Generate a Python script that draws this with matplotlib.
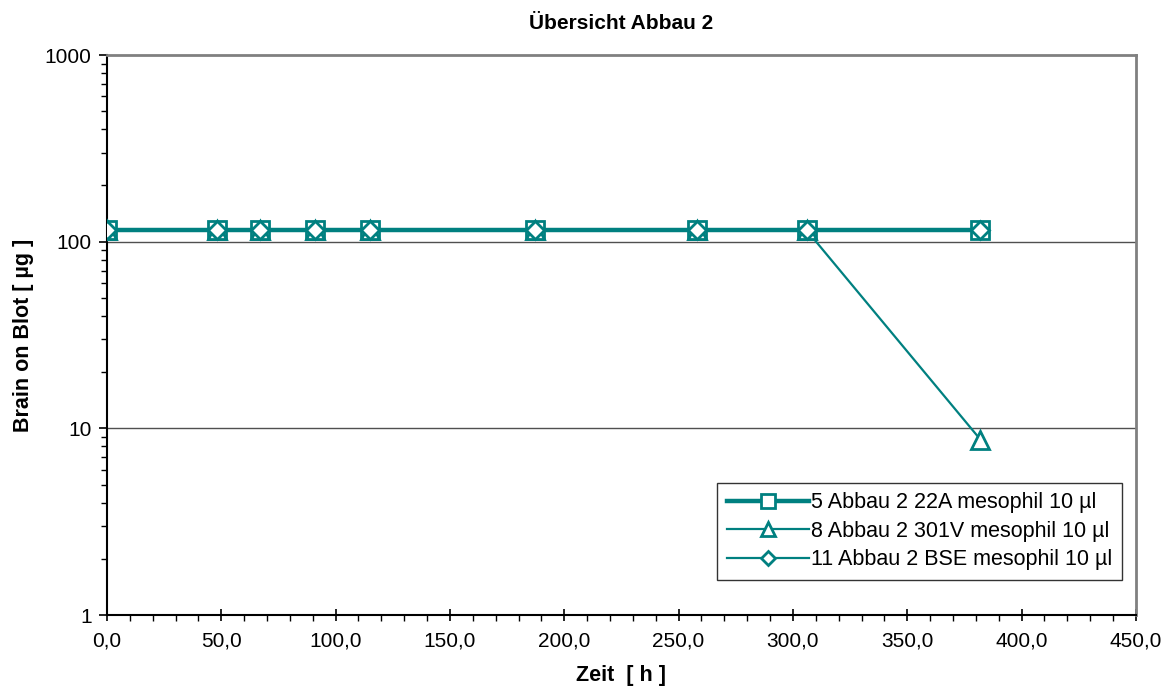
import matplotlib
matplotlib.use("Agg")
import matplotlib.pyplot as plt
from matplotlib.ticker import FixedLocator, FuncFormatter, LogLocator, MultipleLocator, NullFormatter

plt.rcParams['font.family'] = ['Liberation Sans', 'DejaVu Sans']

title = "Übersicht Abbau 2"
x_label = "Zeit  [ h ]"
y_label = "Brain on Blot [ µg ]"

zeit = [0.0, 48.0, 67.0, 91.0, 115.0, 187.0, 258.0, 306.0, 382.0]
series_names = ["5 Abbau 2 22A mesophil 10 µl",
                "8 Abbau 2 301V mesophil 10 µl",
                "11 Abbau 2 BSE mesophil 10 µl"]
s22a = [115, 115, 115, 115, 115, 115, 115, 115, 115]
s301v = [115, 115, 115, 115, 115, 115, 115, 115, 8.7]
sbse = [115, 115, 115, 115, 115, 115, 115, 115, 115]

teal = '#008080'

fig = plt.figure(figsize=(11.74, 6.98), dpi=100)
ax = fig.add_axes([0.0911, 0.1189, 0.8765, 0.8023])

ax.plot(zeit, s22a, color=teal, lw=3.2, marker='s', ms=13, mfc='white', mec=teal, mew=2,
        label=series_names[0], zorder=3)
ax.plot(zeit, s301v, color=teal, lw=1.6, marker='^', ms=13, mfc='white', mec=teal, mew=2,
        label=series_names[1], zorder=4)
ax.plot(zeit, sbse, color=teal, lw=1.6, marker='D', ms=9, mfc='white', mec=teal, mew=2,
        label=series_names[2], zorder=5)

ax.set_yscale('log')
ax.set_ylim(1, 1000)
ax.set_xlim(0, 450)
ax.xaxis.set_major_locator(MultipleLocator(50))
ax.xaxis.set_minor_locator(MultipleLocator(10))
ax.xaxis.set_major_formatter(FuncFormatter(lambda v, p: f"{v:.1f}".replace('.', ',')))
ax.yaxis.set_major_locator(FixedLocator([1, 10, 100, 1000]))
ax.yaxis.set_major_formatter(FuncFormatter(lambda v, p: f"{int(round(v))}"))
ax.yaxis.set_minor_locator(LogLocator(base=10, subs=range(2, 10)))
ax.yaxis.set_minor_formatter(NullFormatter())

ax.tick_params(axis='x', which='major', direction='inout', length=8, width=1.2, labelsize=15, pad=8)
ax.tick_params(axis='x', which='minor', direction='out', length=4, width=1.0)
ax.tick_params(axis='y', which='major', direction='out', length=6, width=1.2, labelsize=15, pad=5)
ax.tick_params(axis='y', which='minor', direction='out', length=4, width=1.0)

for y in [10, 100]:
    ax.axhline(y, color='#505050', lw=1.0, zorder=1)

ax.spines['left'].set_color('black')
ax.spines['left'].set_linewidth(1.5)
ax.spines['bottom'].set_color('black')
ax.spines['bottom'].set_linewidth(1.5)
ax.spines['top'].set_color('#808080')
ax.spines['top'].set_linewidth(2)
ax.spines['right'].set_color('#808080')
ax.spines['right'].set_linewidth(2)

ax.set_title(title, fontsize=15, fontweight='bold', pad=19)
ax.set_xlabel(x_label, fontsize=15.5, fontweight='bold', labelpad=10)
ax.set_ylabel(y_label, fontsize=15.5, fontweight='bold', labelpad=8)

leg = ax.legend(loc='lower right', bbox_to_anchor=(0.9864, 0.0625), fontsize=15.5, frameon=True,
                fancybox=False, edgecolor='black', handlelength=3.8, handletextpad=0.1,
                borderpad=0.45, labelspacing=0.35, markerscale=0.75, borderaxespad=0)
leg.get_frame().set_linewidth(1.0)

fig.savefig('out.png', dpi=100)
